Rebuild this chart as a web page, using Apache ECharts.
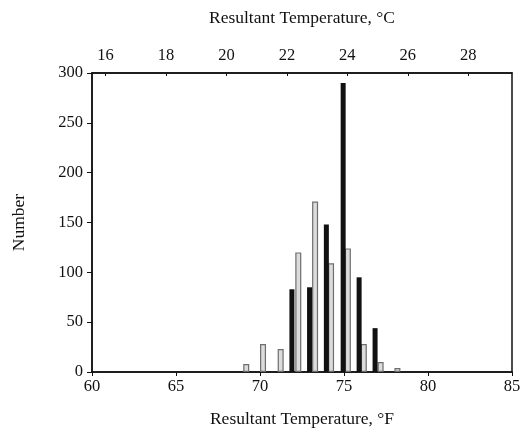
<!DOCTYPE html>
<html>
<head>
<meta charset="utf-8">
<script src="https://cdn.jsdelivr.net/npm/echarts@6/dist/echarts.min.js"></script>
<style>
  html, body { margin: 0; padding: 0; background: #fff; }
  #chart { width: 532px; height: 437px; }
</style>
</head>
<body>
<div id="chart"></div>
<script>
// Resultant temperature (°F) positions and counts for the two samples
const solidTempsF = [71.9, 72.95, 73.95, 74.95, 75.9, 76.85];
const solidCounts = [83, 85, 148, 290, 95, 44];

const lightTempsF = [69.15, 70.15, 71.2, 72.25, 73.25, 74.2, 75.2, 76.15, 77.15, 78.15];
const lightCounts = [8, 28, 23, 120, 171, 109, 124, 28, 10, 4];

// Axis ranges and tick labels
const fRange = [60, 85];
const fStep = 5;
const cTicks = [16, 18, 20, 22, 24, 26, 28];
const countTicks = [0, 50, 100, 150, 200, 250, 300];

const toC = f => (f - 32) * 5 / 9;
const pair = (xs, ys) => xs.map((x, i) => [x, ys[i]]);

const font = '"Liberation Serif", "DejaVu Serif", serif';
const ink = '#111111';
const tickFont = { fontFamily: font, fontSize: 16.5, color: ink };
const titleFont = { fontFamily: font, fontSize: 17.5, color: ink };

const chart = echarts.init(document.getElementById('chart'), null, { renderer: 'canvas' });

chart.setOption({
  animation: false,
  backgroundColor: '#ffffff',
  grid: {
    left: 92, right: 20, top: 73, bottom: 65,
    show: true, borderColor: ink, borderWidth: 1.5, backgroundColor: 'transparent'
  },
  xAxis: [
    {
      type: 'value', position: 'bottom',
      min: fRange[0], max: fRange[1], interval: fStep,
      name: 'Resultant Temperature, °F',
      nameLocation: 'middle', nameGap: 38,
      nameTextStyle: titleFont,
      axisLine: { show: true, lineStyle: { color: ink, width: 1.5 } },
      axisTick: { show: true, inside: false, length: 4, lineStyle: { color: ink } },
      axisLabel: Object.assign({ margin: 6 }, tickFont),
      splitLine: { show: false }
    },
    {
      type: 'value', position: 'top',
      min: toC(fRange[0]), max: toC(fRange[1]),
      name: 'Resultant Temperature, °C',
      nameLocation: 'middle', nameGap: 46,
      nameTextStyle: titleFont,
      axisLine: { show: true, lineStyle: { color: ink, width: 1.5 } },
      axisTick: { show: true, inside: true, length: 3, customValues: cTicks, lineStyle: { color: ink } },
      axisLabel: Object.assign({ margin: 9, customValues: cTicks }, tickFont),
      splitLine: { show: false }
    }
  ],
  yAxis: {
    type: 'value',
    min: countTicks[0], max: countTicks[countTicks.length - 1], interval: 50,
    name: 'Number',
    nameLocation: 'middle', nameGap: 64, nameRotate: 90,
    nameTextStyle: titleFont,
    axisLine: { show: true, lineStyle: { color: ink, width: 1.5 } },
    axisTick: { show: true, inside: false, length: 5, lineStyle: { color: ink } },
    axisLabel: Object.assign({ margin: 9 }, tickFont),
    splitLine: { show: false }
  },
  series: [
    {
      type: 'bar', xAxisIndex: 0,
      data: pair(lightTempsF, lightCounts),
      barWidth: 6, barGap: '-100%',
      itemStyle: { color: '#dcdcdc', borderColor: '#6e6e6e', borderWidth: 1.2 }
    },
    {
      type: 'bar', xAxisIndex: 0,
      data: pair(solidTempsF, solidCounts),
      barWidth: 5, barGap: '-100%',
      itemStyle: { color: '#111111' }
    }
  ]
});
</script>
</body>
</html>
